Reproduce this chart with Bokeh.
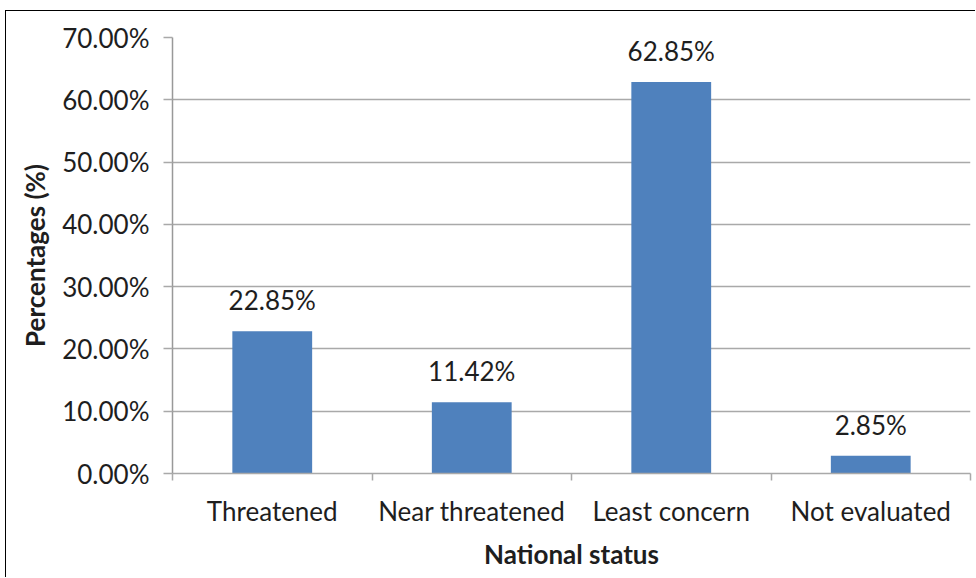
from bokeh.plotting import figure
from bokeh.models import (ColumnDataSource, FixedTicker, PrintfTickFormatter,
                          LabelSet, Range1d)
from bokeh.core.properties import value
from bokeh.embed import file_html
from bokeh.resources import INLINE

# National status categories and their share of species (%)
categories = ["Threatened", "Near threatened", "Least concern", "Not evaluated"]
percentages = [22.85, 11.42, 62.85, 2.85]
y_ticks = [0, 10, 20, 30, 40, 50, 60, 70]

FONT = "Lato"
SIZE = "26px"
TEXT = "#1e1e1e"
GRID = "#a9a9a9"

centers = [i + 0.5 for i in range(len(categories))]
source = ColumnDataSource(dict(
    x=centers,
    top=percentages,
    label=[f"{v:.2f}%" for v in percentages],
))

p = figure(
    width=970, height=567,
    x_range=Range1d(0, len(categories)),
    y_range=Range1d(0, 70),
    output_backend="svg",
    toolbar_location=None,
    min_border_left=166, min_border_right=6,
    min_border_top=26, min_border_bottom=105,
    styles={"margin-left": "6px", "margin-top": "11px",
            "box-shadow": "-1px -1px 0 0 #000"},
)
p.outline_line_color = None
p.background_fill_color = "white"
p.border_fill_color = "white"

p.vbar(x="x", top="top", width=0.4, source=source,
       fill_color="#4f81bd", line_color=None)

p.add_layout(LabelSet(x="x", y="top", text="label", source=source,
                      text_align="center", text_baseline="bottom",
                      y_offset=15, text_font=value(FONT), text_font_size=SIZE,
                      text_color=TEXT))

# y axis: percentage ticks with gridlines
p.yaxis.ticker = FixedTicker(ticks=y_ticks)
p.yaxis.formatter = PrintfTickFormatter(format="%.2f%%")
p.yaxis.axis_label = "Percentages (%)"
p.yaxis.axis_label_text_font = FONT
p.yaxis.axis_label_text_font_style = "bold"
p.yaxis.axis_label_text_font_size = SIZE
p.yaxis.axis_label_text_color = TEXT
p.yaxis.axis_label_standoff = 8
p.yaxis.major_label_text_font = FONT
p.yaxis.major_label_text_font_size = SIZE
p.yaxis.major_label_text_color = TEXT
p.yaxis.major_label_standoff = 14
p.yaxis.major_tick_in = 0
p.yaxis.major_tick_out = 9
p.yaxis.major_tick_line_color = GRID
p.yaxis.major_tick_line_width = 1.5
p.yaxis.minor_tick_line_color = None
p.yaxis.axis_line_color = "#999999"
p.yaxis.axis_line_width = 1.5

# x axis: names at bar centres, tick marks on category boundaries
p.xaxis.ticker = FixedTicker(ticks=centers,
                             minor_ticks=list(range(len(categories) + 1)))
p.xaxis.major_label_overrides = {c: name for c, name in zip(centers, categories)}
p.xaxis.axis_label = "National status"
p.xaxis.axis_label_text_font = FONT
p.xaxis.axis_label_text_font_style = "bold"
p.xaxis.axis_label_text_font_size = SIZE
p.xaxis.axis_label_text_color = TEXT
p.xaxis.axis_label_standoff = 8
p.xaxis.major_label_text_font = FONT
p.xaxis.major_label_text_font_size = SIZE
p.xaxis.major_label_text_color = TEXT
p.xaxis.major_label_standoff = 14
p.xaxis.major_tick_line_color = None
p.xaxis.major_tick_in = 0
p.xaxis.major_tick_out = 0
p.xaxis.minor_tick_in = 0
p.xaxis.minor_tick_out = 7
p.xaxis.minor_tick_line_color = GRID
p.xaxis.minor_tick_line_width = 1.5
p.xaxis.axis_line_color = GRID
p.xaxis.axis_line_width = 1.5

p.xgrid.grid_line_color = None
p.ygrid.grid_line_color = GRID
p.ygrid.grid_line_width = 1.5

open("out.html", "w").write(file_html(p, INLINE))
